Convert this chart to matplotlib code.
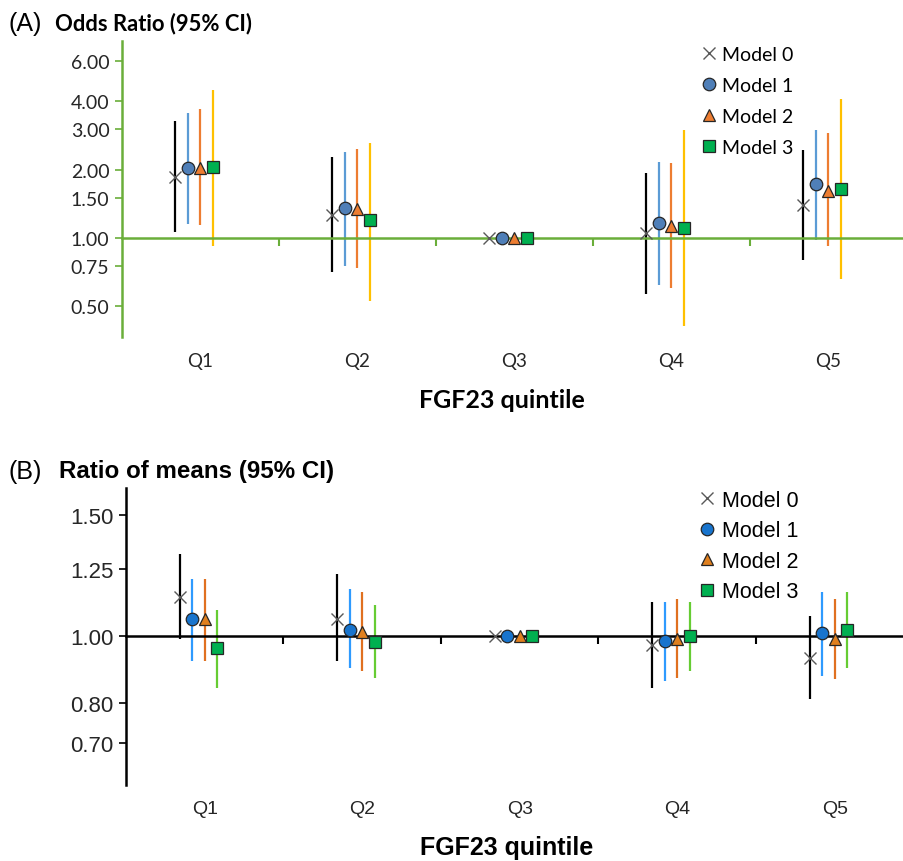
import numpy as np
import matplotlib.pyplot as plt
from matplotlib.ticker import FixedLocator, NullLocator, NullFormatter

quintiles = ["Q1", "Q2", "Q3", "Q4", "Q5"]
models = ["Model 0", "Model 1", "Model 2", "Model 3"]

# (A) odds ratios, rows = models, cols = quintiles (Q3 is reference)
or_est = np.array([
    [1.85, 1.26, 1.00, 1.05, 1.40],
    [2.04, 1.35, 1.00, 1.16, 1.72],
    [2.03, 1.34, 1.00, 1.13, 1.61],
    [2.05, 1.20, 1.00, 1.11, 1.65],
])
or_lo = np.array([
    [1.06, 0.71, np.nan, 0.57, 0.80],
    [1.15, 0.75, np.nan, 0.62, 0.98],
    [1.14, 0.74, np.nan, 0.60, 0.92],
    [0.92, 0.53, np.nan, 0.41, 0.66],
])
or_hi = np.array([
    [3.27, 2.27, np.nan, 1.94, 2.44],
    [3.55, 2.40, np.nan, 2.16, 2.99],
    [3.69, 2.47, np.nan, 2.14, 2.89],
    [4.49, 2.62, np.nan, 2.98, 4.10],
])

# (B) ratio of means
rm_est = np.array([
    [1.14, 1.06, 1.00, 0.97, 0.93],
    [1.06, 1.02, 1.00, 0.985, 1.01],
    [1.06, 1.015, 1.00, 0.99, 0.99],
    [0.96, 0.98, 1.00, 1.00, 1.02],
])
rm_lo = np.array([
    [0.99, 0.92, np.nan, 0.84, 0.81],
    [0.92, 0.90, np.nan, 0.86, 0.875],
    [0.92, 0.89, np.nan, 0.87, 0.865],
    [0.84, 0.87, np.nan, 0.89, 0.90],
])
rm_hi = np.array([
    [1.315, 1.23, np.nan, 1.12, 1.07],
    [1.21, 1.17, np.nan, 1.12, 1.16],
    [1.21, 1.16, np.nan, 1.13, 1.13],
    [1.09, 1.11, np.nan, 1.12, 1.16],
])

offsets = [-0.16, -0.08, 0.0, 0.08]
markers = ["x", "o", "^", "s"]

W, H = 904, 862
fig = plt.figure(figsize=(W / 100, H / 100), dpi=100)


def px(x0, y0, x1, y1):
    return [x0 / W, 1 - y1 / H, (x1 - x0) / W, (y1 - y0) / H]


def panel(ax, est, lo, hi, line_cols, mk_cols, axis_col, ylim, yticks,
          font, tick_fs, q_fs, leg_fs, leg_sp, xmax, leg_anchor):
    x = np.arange(1, 6)
    for i in range(4):
        xi = x + offsets[i]
        ax.vlines(xi, lo[i], hi[i], color=line_cols[i], lw=1.6, zorder=2)
        if markers[i] == "x":
            ax.plot(xi, est[i], ls="none", marker="x", ms=9, mew=1.0,
                    color=mk_cols[i], label=models[i], zorder=4)
        else:
            ax.plot(xi, est[i], ls="none", marker=markers[i], ms=9,
                    mfc=mk_cols[i], mec="#262626", mew=0.9,
                    label=models[i], zorder=4)
    ax.set_yscale("log")
    ax.set_ylim(*ylim)
    ax.set_xlim(0.5, xmax)
    ax.yaxis.set_major_locator(FixedLocator(yticks))
    ax.yaxis.set_minor_locator(NullLocator())
    ax.yaxis.set_minor_formatter(NullFormatter())
    ax.set_yticklabels(["%.2f" % v for v in yticks], fontfamily=font,
                       fontsize=tick_fs, color="#262626")
    ax.tick_params(axis="y", direction="out", length=5, width=1.2,
                   color=axis_col, pad=4)
    for s in ["top", "right"]:
        ax.spines[s].set_visible(False)
    ax.spines["left"].set_color(axis_col)
    ax.spines["left"].set_linewidth(1.8)
    # the category axis crosses at ratio = 1
    ax.spines["bottom"].set_position(("data", 1.0))
    ax.spines["bottom"].set_color(axis_col)
    ax.spines["bottom"].set_linewidth(1.8)
    ax.xaxis.set_major_locator(FixedLocator([1.5, 2.5, 3.5, 4.5]))
    ax.xaxis.set_minor_locator(NullLocator())
    ax.tick_params(axis="x", direction="out", length=6, width=1.5,
                   color=axis_col, labelbottom=False)
    for k, q in enumerate(quintiles):
        ax.text(k + 1, -0.08, q, transform=ax.get_xaxis_transform(),
                ha="center", va="center", fontsize=q_fs, fontfamily=font,
                color="#262626")
    ax.legend(loc="upper left", bbox_to_anchor=leg_anchor,
              bbox_transform=fig.transFigure, frameon=False,
              prop={"family": font, "size": leg_fs},
              handlelength=0.8, handletextpad=0.3,
              labelspacing=leg_sp, borderpad=0, borderaxespad=0)


# panel A
axA = fig.add_axes(px(122, 42, W, 338))
panel(axA, or_est, or_lo, or_hi,
      ["#000000", "#5B9BD5", "#ED7D31", "#FFC000"],
      ["#595959", "#4F7FB8", "#ED7D31", "#00B050"],
      "#6AAE3A", (0.367, 7.35), [0.5, 0.75, 1.0, 1.5, 2.0, 3.0, 4.0, 6.0],
      "Lato", 14, 13.5, 14, 0.72, 0.5 + (W - 122) / 157,
      (701 / W, 1 - 47 / H))

# panel B
axB = fig.add_axes(px(126, 489, W, 786))
panel(axB, rm_est, rm_lo, rm_hi,
      ["#000000", "#2E9AFE", "#E07020", "#66CC33"],
      ["#595959", "#1874CD", "#E0801F", "#00B050"],
      "#000000", (0.608, 1.64), [0.7, 0.8, 1.0, 1.25, 1.5],
      "Liberation Sans", 16, 14, 15.5, 0.44, 0.5 + (W - 126) / 157.5,
      (698 / W, 1 - 491 / H))

fig.text(502 / W, 1 - 401 / H, "FGF23 quintile", ha="center", va="center",
         fontsize=18, fontweight="bold", fontfamily="Lato")
fig.text(507 / W, 1 - 848 / H, "FGF23 quintile", ha="center", va="center",
         fontsize=18, fontweight="bold", fontfamily="Liberation Sans")

fig.text(8 / W, 1 - 24 / H, "(A)", fontsize=18, fontfamily="Liberation Sans",
         va="center", ha="left")
fig.text(55 / W, 1 - 24 / H, "Odds Ratio (95% CI)", fontsize=15.8,
         fontfamily="Lato", fontweight="bold", va="center", ha="left")
fig.text(9 / W, 1 - 472 / H, "(B)", fontsize=18,
         fontfamily="Liberation Sans", va="center", ha="left")
fig.text(59 / W, 1 - 472 / H, "Ratio of means (95% CI)", fontsize=17.4,
         fontfamily="Liberation Sans", fontweight="bold", va="center",
         ha="left")

fig.savefig("out.png", dpi=100)
